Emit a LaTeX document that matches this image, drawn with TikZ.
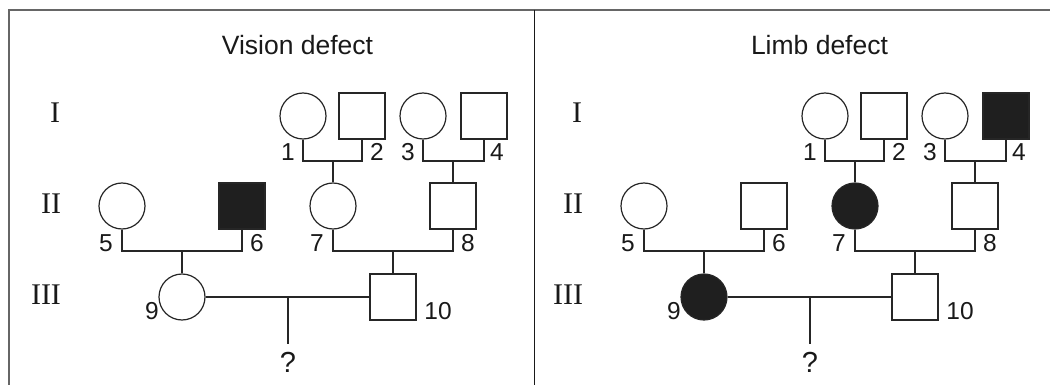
\documentclass[tikz,border=0pt]{standalone}
\usepackage{fontspec}
\newfontfamily\hv{Liberation Sans}
\newfontfamily\tm{Liberation Serif}
\tikzset{
  ln/.style={line width=1.2pt, draw=black!85},
  fem/.style={circle, ln, minimum size=46pt, inner sep=0pt, fill=white},
  mal/.style={rectangle, ln, minimum size=46pt, inner sep=0pt, fill=white},
  aff/.style={fill=black!88},
  num/.style={font=\hv\fontsize{24.5}{24.5}\selectfont, inner sep=0pt, text=black!90},
  qmk/.style={font=\hv\fontsize{29}{29}\selectfont, inner sep=0pt, text=black!90},
  gen/.style={font=\tm\fontsize{30}{30}\selectfont, inner sep=0pt, text=black!90},
  ttl/.style={font=\hv\fontsize{26.5}{26.5}\selectfont, inner sep=0pt, text=black!90},
  p1/.style={}, p2/.style={}, p3/.style={}, p4/.style={}, p5/.style={},
  p6/.style={}, p7/.style={}, p8/.style={}, p9/.style={}, p10/.style={},
}
\newcommand\pedigree{%
  \node[fem,p1] (c1) at (303,116) {};
  \node[mal,p2] (s2) at (362,116) {};
  \node[fem,p3] (c3) at (423,116) {};
  \node[mal,p4] (s4) at (484,116) {};
  \node[fem,p5] (c5) at (122,206) {};
  \node[mal,p6] (s6) at (242,206) {};
  \node[fem,p7] (c7) at (333,206) {};
  \node[mal,p8] (s8) at (453,206) {};
  \node[fem,p9] (c9) at (182,297) {};
  \node[mal,p10] (s10) at (393,297) {};
  \coordinate (m12) at (333,161);
  \coordinate (m34) at (453,161);
  \coordinate (m56) at (182,251);
  \coordinate (m78) at (393,251);
  \coordinate (m910) at (288,297);
  \draw[ln] (c1.south) |- (m12) -| (s2.south);
  \draw[ln] (m12) -- (c7);
  \draw[ln] (c3.south) |- (m34) -| (s4.south);
  \draw[ln] (m34) -- (s8);
  \draw[ln] (c5.south) |- (m56) -| (s6.south);
  \draw[ln] (m56) -- (c9);
  \draw[ln] (c7.south) |- (m78) -| (s8.south);
  \draw[ln] (m78) -- (s10);
  \draw[ln] (c9) -- (s10);
  \node[qmk] (q) at (288,362) {?};
  \draw[ln, shorten >=8pt] (m910) -- (q.north);
  \node[num] (n1) at (288,152) {1};
  \node[num] (n2) at (377,152) {2};
  \node[num] (n3) at (408,152) {3};
  \node[num] (n4) at (497,152) {4};
  \node[num] (n5) at (106,243) {5};
  \node[num] (n6) at (257,243) {6};
  \node[num] (n7) at (317,243) {7};
  \node[num] (n8) at (468,243) {8};
  \node[num] (n9) at (152,311) {9};
  \node[num] (n10) at (438,311) {10};
  \node[gen] (g1) at (55,113) {I};
  \node[gen] (g2) at (51,204) {II};
  \node[gen] (g3) at (46,295) {III};
}
\begin{document}
\begin{tikzpicture}[x=1pt, y=-1pt]
  \useasboundingbox (0,0) rectangle (1050,385);
  \draw[line width=2pt, black!60] (9,385) -- (9,10) -- (1050,10);
  \draw[line width=1.5pt, black!90] (534.5,10) -- (534.5,385);
  \begin{scope}[name prefix=L-, p6/.style={aff}]
    \node[ttl] (title) at (297.5,45) {Vision defect};
    \pedigree
  \end{scope}
  \begin{scope}[xshift=522pt, name prefix=R-, p4/.style={aff}, p7/.style={aff}, p9/.style={aff}]
    \node[ttl] (title) at (297.5,45) {Limb defect};
    \pedigree
  \end{scope}
\end{tikzpicture}
\end{document}
